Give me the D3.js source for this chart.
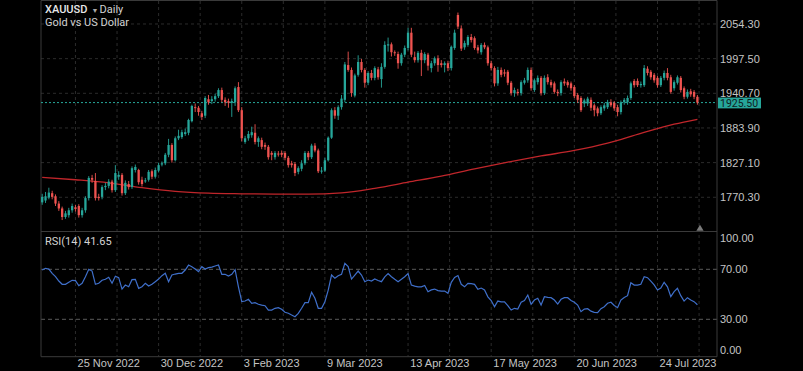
<!DOCTYPE html>
<html>
<head>
<meta charset="utf-8">
<script src="https://cdn.jsdelivr.net/npm/d3@7"></script>
<style>
  html, body { margin: 0; padding: 0; background: #000; }
  svg { display: block; font-family: Roboto, "Noto Sans", sans-serif; }
</style>
</head>
<body>
<div id="chart"></div>
<script>
// daily candles, one entry per bar
var openP = [
  1762,1765,1770,1777,1772,1760,1752,1738,1741,1749,
  1754,1756,1741,1749,1769,1802,1797,1771,1771,1787,
  1789,1796,1782,1804,1807,1777,1792,1787,1815,1815,
  1799,1797,1799,1813,1804,1814,1824,1826,1840,1856,
  1831,1867,1869,1874,1876,1895,1918,1917,1908,1904,
  1931,1928,1931,1936,1946,1930,1928,1925,1926,1951,
  1913,1861,1867,1872,1876,1861,1864,1856,1853,1843,
  1836,1842,1843,1843,1835,1826,1825,1812,1817,1826,
  1843,1836,1855,1847,1813,1814,1831,1868,1913,1904,
  1918,1930,1987,1979,1937,1971,1992,1979,1958,1974,
  1966,1980,1964,1984,2019,2021,2008,2005,1990,2004,
  2015,2040,2000,1995,2007,1995,2004,1982,1990,1998,
  1990,1987,1990,1982,2015,2069,2047,2016,2020,2033,
  2031,2016,2008,2020,2016,1990,1982,1957,1979,1975,
  1976,1958,1941,1943,1941,1958,1962,1979,1946,1959,
  1966,1941,1967,1959,1957,1943,1941,1960,1959,1957,
  1951,1938,1933,1924,1924,1930,1921,1916,1908,1916,
  1918,1926,1925,1918,1910,1926,1926,1933,1961,1961,
  1954,1954,1981,1976,1971,1966,1954,1966,1974,1967,
  1949,1958,1966,1949,1935,1944,1943,1935
];
var highP = [
  1776,1779,1786,1781,1775,1764,1755,1748,1753,1760,
  1758,1759,1753,1772,1805,1807,1810,1776,1790,1794,
  1800,1799,1823,1813,1810,1798,1797,1821,1824,1817,
  1804,1802,1815,1816,1819,1827,1829,1843,1866,1859,
  1870,1881,1881,1883,1899,1922,1924,1920,1912,1936,
  1938,1936,1940,1949,1950,1934,1932,1932,1952,1959,
  1918,1871,1879,1886,1890,1870,1868,1860,1856,1846,
  1846,1846,1847,1846,1838,1830,1828,1821,1831,1846,
  1846,1858,1859,1850,1820,1835,1870,1916,1918,1921,
  1938,1992,2009,1983,1973,2003,1997,1982,1977,1979,
  1985,1984,1990,2026,2032,2024,2011,2009,2007,2019,
  2048,2048,2009,2010,2012,2008,2007,1994,2001,2003,
  1995,1993,1994,2019,2045,2073,2052,2027,2036,2038,
  2034,2020,2023,2024,2019,1994,1985,1984,1983,1980,
  1979,1961,1950,1948,1962,1966,1983,1983,1965,1970,
  1969,1970,1972,1963,1960,1947,1962,1965,1962,1960,
  1954,1941,1936,1932,1935,1934,1924,1919,1921,1925,
  1930,1931,1928,1922,1929,1933,1937,1960,1964,1965,
  1960,1987,1985,1979,1974,1969,1969,1978,1982,1971,
  1962,1970,1969,1952,1947,1948,1946,1938
];
var lowP = [
  1758,1761,1767,1767,1756,1748,1733,1735,1737,1745,
  1747,1737,1737,1745,1765,1794,1765,1765,1767,1782,
  1785,1778,1779,1799,1773,1774,1783,1784,1811,1791,
  1788,1794,1796,1800,1801,1811,1821,1823,1836,1827,
  1829,1864,1866,1871,1872,1893,1910,1904,1897,1900,
  1922,1923,1927,1933,1926,1920,1917,1902,1920,1910,
  1862,1858,1863,1868,1857,1853,1849,1848,1832,1831,
  1832,1837,1836,1831,1819,1819,1805,1808,1813,1823,
  1831,1833,1844,1810,1809,1812,1829,1866,1899,1897,
  1914,1926,1976,1935,1934,1968,1975,1950,1954,1962,
  1962,1963,1950,1981,2009,2001,2002,1981,1986,2000,
  2011,2000,1991,1991,1969,1990,1978,1975,1986,1976,
  1983,1975,1977,1978,2012,2046,2010,2012,2017,2024,
  2012,2006,2004,2013,1986,1978,1952,1953,1967,1968,
  1954,1937,1935,1937,1937,1955,1958,1945,1943,1955,
  1937,1938,1955,1950,1940,1936,1937,1953,1950,1945,
  1933,1925,1910,1918,1920,1912,1903,1903,1905,1912,
  1915,1918,1912,1903,1906,1922,1922,1930,1950,1951,
  1950,1951,1970,1963,1958,1950,1951,1962,1962,1940,
  1945,1955,1942,1931,1932,1935,1931,1922
];
var closeP = [
  1771,1772,1778,1771,1760,1752,1738,1744,1749,1756,
  1751,1741,1749,1769,1802,1799,1769,1769,1787,1789,
  1796,1782,1810,1807,1777,1794,1787,1818,1820,1795,
  1792,1798,1812,1804,1815,1823,1826,1840,1856,1831,
  1867,1871,1877,1877,1897,1920,1917,1910,1902,1933,
  1926,1931,1936,1946,1930,1926,1925,1928,1949,1913,
  1867,1867,1874,1877,1861,1867,1853,1853,1836,1840,
  1843,1841,1840,1835,1823,1823,1810,1818,1826,1843,
  1836,1855,1847,1813,1814,1831,1868,1913,1904,1918,
  1932,1988,1979,1941,1970,1992,1979,1958,1974,1966,
  1982,1967,1984,2020,2021,2008,2007,1990,2004,2015,
  2040,2004,1995,2007,1995,2005,1986,1990,1998,1987,
  1987,1990,1982,2017,2040,2050,2014,2023,2033,2028,
  2015,2011,2020,2016,1990,1982,1957,1979,1971,1973,
  1958,1941,1946,1941,1959,1962,1979,1949,1962,1966,
  1941,1966,1959,1954,1943,1941,1959,1957,1954,1949,
  1936,1930,1913,1929,1932,1917,1913,1908,1918,1921,
  1926,1921,1916,1910,1926,1930,1933,1957,1954,1954,
  1956,1982,1974,1967,1962,1954,1966,1974,1966,1943,
  1959,1967,1946,1935,1943,1939,1935,1925.5
];

// moving average, read at a few bars
var maIdx = [0,10,20,30,40,50,60,70,80,90,100,110,120,130,140,150,160,170,180,190,197];
var maVal = [1803,1799,1794,1786,1780,1777,1776,1775.5,1775.5,1777.5,1785,1795,1805,1817,1828,1838,1847,1859,1875,1890,1898];

// RSI(14), one value per bar
var rsiVal = [
  69.4,70.8,70.2,66.8,64.1,60.6,58.0,58.0,59.6,61.2,
  60.9,56.9,58.8,64.1,70.0,68.6,58.0,58.8,61.2,62.0,
  63.6,58.8,64.4,63.3,54.2,57.4,56.1,61.7,62.0,54.8,
  56.1,58.8,56.6,58.0,60.1,62.2,64.9,66.8,60.1,65.4,
  66.2,66.8,66.8,69.4,73.4,72.1,70.2,68.1,72.1,70.2,
  71.3,71.8,72.6,73.4,66.0,66.0,64.6,66.0,69.7,56.0,
  44.1,44.6,46.0,42.8,43.3,42.0,41.4,40.9,37.4,37.4,
  38.8,39.3,38.0,35.6,34.8,33.4,32.1,34.8,38.8,43.3,
  43.3,51.6,46.8,38.8,38.8,44.1,53.4,65.4,62.8,64.9,
  66.0,74.8,72.1,62.2,65.4,68.6,65.4,60.1,61.4,60.6,
  62.2,61.0,60.1,64.0,66.5,64.0,62.0,60.1,62.0,64.0,
  66.5,57.4,56.5,56.0,56.0,57.0,52.0,53.5,54.2,53.0,
  52.6,52.6,50.8,59.6,63.5,65.0,58.0,56.0,58.8,58.5,
  58.0,54.0,55.0,53.5,48.0,45.0,40.1,44.6,44.0,44.0,
  41.0,37.4,38.8,38.2,43.6,45.0,49.4,42.0,45.4,46.8,
  41.4,48.1,47.5,47.3,45.4,42.2,46.0,47.3,47.3,45.0,
  43.6,41.4,36.1,38.2,38.5,36.5,35.6,35.3,38.5,40.1,
  42.8,43.6,41.0,39.3,45.4,47.5,48.9,59.2,57.4,57.4,
  58.0,64.1,63.3,60.5,57.5,53.4,55.0,59.6,56.0,48.1,
  52.1,54.8,48.9,44.6,47.3,45.4,44.1,41.65
];

var priceTicks = [2054.3, 1997.5, 1940.7, 1883.9, 1827.1, 1770.3];
var lastPrice = 1925.5;
var rsiTicks = [100, 70, 30, 0];
var rsiGuides = [70, 30];
var dateTickIdx = [10, 35, 60, 85, 110, 135, 160, 185];
var dateTickLabels = ["25 Nov 2022", "30 Dec 2022", "3 Feb 2023", "9 Mar 2023",
                      "13 Apr 2023", "17 May 2023", "20 Jun 2023", "24 Jul 2023"];

var width = 803, height = 371;
var left = 41, right = 717, split = 231.5, bottom = 356.7;
var upColor = "#26a69a", downColor = "#ef5350";
var gridColor = "#2b2b2b", frameColor = "#3a3a3a", textColor = "#c4c4c4";

var svg = d3.select("#chart")
  .append("svg")
    .attr("width", width)
    .attr("height", height);

svg.append("rect")
    .attr("width", width)
    .attr("height", height)
    .attr("fill", "#000");

var xScale = d3.scaleLinear()
    .domain([0, closeP.length - 1])
    .range([42.2, 697.4]);

var yScale = d3.scaleLinear()
    .domain([1718, 2093.6])
    .range([229.2, 0]);

var rScale = d3.scaleLinear()
    .domain([0, 100])
    .range([356.8, 231.8]);

// vertical grid, every half label step
var gridIdx = [];
dateTickIdx.forEach(function(d) { gridIdx.push(d, d + 12.5); });

svg.append("g")
  .selectAll("line")
  .data(gridIdx)
  .enter()
  .append("line")
    .attr("x1", d => xScale(d))
    .attr("x2", d => xScale(d))
    .attr("y1", 1)
    .attr("y2", bottom)
    .attr("stroke", gridColor)
    .attr("stroke-dasharray", "3,3");

// horizontal grid at price ticks
svg.append("g")
  .selectAll("line")
  .data(priceTicks)
  .enter()
  .append("line")
    .attr("x1", left)
    .attr("x2", right)
    .attr("y1", d => yScale(d))
    .attr("y2", d => yScale(d))
    .attr("stroke", gridColor)
    .attr("stroke-dasharray", "3,3");

// RSI 70 / 30 guides
svg.append("g")
  .selectAll("line")
  .data(rsiGuides)
  .enter()
  .append("line")
    .attr("x1", left)
    .attr("x2", right)
    .attr("y1", d => rScale(d))
    .attr("y2", d => rScale(d))
    .attr("stroke", "#5a5a5a")
    .attr("stroke-dasharray", "4,3");

// frame
svg.append("path")
    .attr("d", "M" + left + ",0.5H" + right + "V" + bottom + "H" + left + "Z")
    .attr("fill", "none")
    .attr("stroke", frameColor);
svg.append("line")
    .attr("x1", left).attr("x2", right)
    .attr("y1", split).attr("y2", split)
    .attr("stroke", frameColor);

// moving average
var maLine = d3.line()
    .x((d, i) => xScale(maIdx[i]))
    .y(d => yScale(d))
    .curve(d3.curveMonotoneX);

svg.append("path")
    .datum(maVal)
    .attr("d", maLine)
    .attr("fill", "none")
    .attr("stroke", "#c0262b")
    .attr("stroke-width", 1.3);

// last price line
svg.append("line")
    .attr("x1", left).attr("x2", right)
    .attr("y1", yScale(lastPrice)).attr("y2", yScale(lastPrice))
    .attr("stroke", upColor)
    .attr("stroke-dasharray", "2,2");

// candles
var candles = svg.append("g")
  .selectAll("g")
  .data(closeP)
  .enter()
  .append("g");

candles.append("line")
    .attr("x1", (d, i) => xScale(i))
    .attr("x2", (d, i) => xScale(i))
    .attr("y1", (d, i) => yScale(highP[i]))
    .attr("y2", (d, i) => yScale(lowP[i]))
    .attr("stroke", (d, i) => d >= openP[i] ? upColor : downColor)
    .attr("stroke-width", 0.9);

candles.append("rect")
    .attr("x", (d, i) => xScale(i) - 1.15)
    .attr("width", 2.3)
    .attr("y", (d, i) => yScale(Math.max(d, openP[i])))
    .attr("height", (d, i) => Math.max(1, Math.abs(yScale(d) - yScale(openP[i]))))
    .attr("fill", (d, i) => d >= openP[i] ? upColor : downColor);

// RSI line
var rsiLine = d3.line()
    .x((d, i) => xScale(i))
    .y(d => rScale(d));

svg.append("path")
    .datum(rsiVal)
    .attr("d", rsiLine)
    .attr("fill", "none")
    .attr("stroke", "#3f6fca")
    .attr("stroke-width", 1.2);

// little marker at the end of the series
svg.append("path")
    .attr("d", "M700,224.8L703.6,230.8L696.4,230.8Z")
    .attr("fill", "#7a7a7a");

// price axis
var pAxis = svg.append("g")
    .attr("transform", "translate(" + right + ",0)")
    .call(d3.axisRight(yScale).tickValues(priceTicks).tickFormat(d3.format(".2f")).tickSize(0).tickPadding(3));
pAxis.select(".domain").remove();
pAxis.selectAll("text")
    .attr("fill", textColor)
    .style("font-size", "11px");

// last price tag, drawn over the axis labels
var tag = svg.append("g")
    .attr("transform", "translate(" + (right + 1) + "," + yScale(lastPrice) + ")");
tag.append("rect")
    .attr("y", -5)
    .attr("width", 43)
    .attr("height", 10.8)
    .attr("fill", upColor);
tag.append("text")
    .attr("x", 2)
    .attr("y", 0.4)
    .attr("dy", "0.35em")
    .attr("fill", "#10201e")
    .style("font-size", "10.5px")
    .text(d3.format(".2f")(lastPrice));

// RSI axis
var rAxis = svg.append("g")
    .attr("transform", "translate(" + right + ",0)")
    .call(d3.axisRight(rScale).tickValues(rsiTicks).tickFormat(d3.format(".2f")).tickSize(0).tickPadding(3));
rAxis.select(".domain").remove();
rAxis.selectAll("text")
    .attr("fill", textColor)
    .style("font-size", "11px");
// keep the end labels inside the panel
rAxis.selectAll(".tick")
    .attr("transform", d => "translate(0," + Math.min(Math.max(rScale(d), split + 7), bottom - 6) + ")");

// date axis
var dAxis = svg.append("g")
    .attr("transform", "translate(0," + bottom + ")")
    .call(d3.axisBottom(xScale).tickValues(dateTickIdx).tickFormat((d, i) => dateTickLabels[i]).tickSize(0).tickPadding(2.8));
dAxis.select(".domain").remove();
dAxis.selectAll("text")
    .attr("x", 1.6)
    .style("text-anchor", "start")
    .attr("fill", textColor)
    .style("font-size", "11px");

// titles
svg.append("text")
    .attr("x", 45).attr("y", 13.3)
    .attr("fill", "#e8e8e8")
    .style("font-size", "11px")
    .style("font-weight", "500")
    .text("XAUUSD");
svg.append("text")
    .attr("x", 91.5).attr("y", 12.5)
    .attr("fill", "#a8a8a8")
    .style("font-size", "7px")
    .text("▼");
svg.append("text")
    .attr("x", 99.5).attr("y", 13.3)
    .attr("fill", "#d2d2d2")
    .style("font-size", "11px")
    .text("Daily");
svg.append("text")
    .attr("x", 45).attr("y", 26.3)
    .attr("fill", "#d2d2d2")
    .style("font-size", "11px")
    .text("Gold vs US Dollar");
svg.append("text")
    .attr("x", 45).attr("y", 245)
    .attr("fill", "#d2d2d2")
    .style("font-size", "11px")
    .text("RSI(14) " + rsiVal[rsiVal.length - 1]);
</script>
</body>
</html>
